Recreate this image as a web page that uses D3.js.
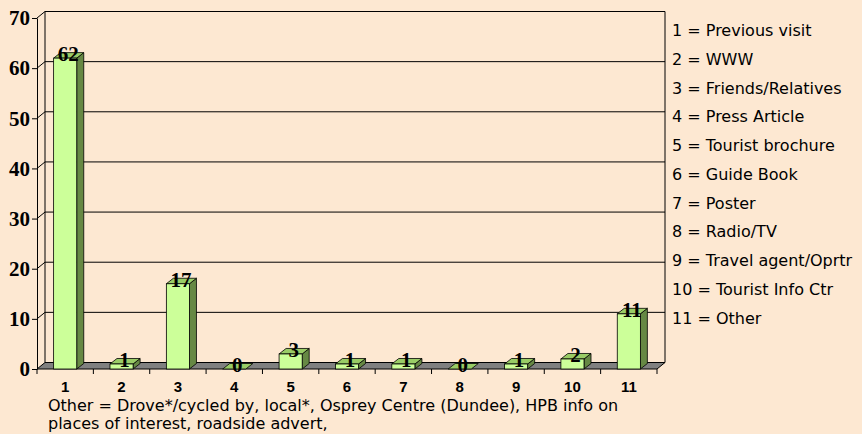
<!DOCTYPE html>
<html>
<head>
<meta charset="utf-8">
<script src="https://cdn.jsdelivr.net/npm/d3@7"></script>
<style>
  html, body { margin: 0; padding: 0; background: #fde8d2; }
  svg { display: block; }
</style>
</head>
<body>
<div id="chart"></div>
<script>
// data
const categories = ["1", "2", "3", "4", "5", "6", "7", "8", "9", "10", "11"];
const counts = [62, 1, 17, 0, 3, 1, 1, 0, 1, 2, 11];
const yTicks = [0, 10, 20, 30, 40, 50, 60, 70];
const legendLabels = [
    "1 = Previous visit",
    "2 = WWW",
    "3 = Friends/Relatives",
    "4 = Press Article",
    "5 = Tourist brochure",
    "6 = Guide Book",
    "7 = Poster",
    "8 = Radio/TV",
    "9 = Travel agent/Oprtr",
    "10 = Tourist Info Ctr",
    "11 = Other",
];
const footnoteLines = [
    "Other = Drove*/cycled by, local*, Osprey Centre (Dundee), HPB info on",
    "places of interest, roadside advert,",
];

const width = 862;
const height = 434;

// 3d offsets: floor/walls and bars
const depthX = 8, depthY = 6.5;
const barDX = 7, barDY = 5.5;

const svg = d3
    .select("#chart")
    .append("svg")
    .attr("width", width)
    .attr("height", height);

svg.append("rect")
    .attr("width", width)
    .attr("height", height)
    .attr("fill", "#fde8d2");

const x = d3
    .scaleBand()
    .domain(categories)
    .range([37, 657])
    .paddingInner(0.59)
    .paddingOuter(0.295);

const y = d3.scaleLinear().domain([0, 70]).range([369, 18]);

const left = x.range()[0];
const right = x.range()[1];

// gridlines on side + back wall
svg.append("g")
    .selectAll("polyline")
    .data(yTicks.filter((d) => d > 0))
    .enter()
    .append("polyline")
    .attr("fill", "none")
    .attr("stroke", "#000")
    .attr("stroke-width", 1)
    .attr("points", (d) => [
        [left, y(d)],
        [left + depthX, y(d) - depthY],
        [right + depthX, y(d) - depthY],
    ].join(" "));

// back wall edges
svg.append("polyline")
    .attr("fill", "none")
    .attr("stroke", "#000")
    .attr("points", [
        [left + depthX, y(0) - depthY],
        [left + depthX, y(70) - depthY],
        [right + depthX, y(70) - depthY],
        [right + depthX, y(0) - depthY],
    ].join(" "));

// floor
svg.append("polygon")
    .attr("fill", "#808080")
    .attr("stroke", "#000")
    .attr("points", [
        [left, y(0)],
        [left + depthX, y(0) - depthY],
        [right + depthX, y(0) - depthY],
        [right, y(0)],
    ].join(" "));

// bars
const bars = svg
    .append("g")
    .selectAll("g")
    .data(categories.map((c, i) => ({ cat: c, value: counts[i] })))
    .enter()
    .append("g");

const bw = x.bandwidth();

bars.filter((d) => d.value > 0)
    .append("polygon")
    .attr("fill", "#668844")
    .attr("stroke", "#000")
    .attr("stroke-width", 0.8)
    .attr("points", (d) => {
        const x1 = x(d.cat) + bw;
        return [
            [x1, y(0)],
            [x1 + barDX, y(0) - barDY],
            [x1 + barDX, y(d.value) - barDY],
            [x1, y(d.value)],
        ].join(" ");
    });

bars.append("polygon")
    .attr("fill", "#99cc66")
    .attr("stroke", "#000")
    .attr("stroke-width", 0.8)
    .attr("points", (d) => {
        const x0 = x(d.cat);
        const yt = y(d.value);
        return [
            [x0, yt],
            [x0 + barDX, yt - barDY],
            [x0 + bw + barDX, yt - barDY],
            [x0 + bw, yt],
        ].join(" ");
    });

bars.filter((d) => d.value > 0)
    .append("rect")
    .attr("fill", "#ccff99")
    .attr("stroke", "#000")
    .attr("stroke-width", 0.8)
    .attr("x", (d) => x(d.cat))
    .attr("y", (d) => y(d.value))
    .attr("width", bw)
    .attr("height", (d) => y(0) - y(d.value));

// value labels
bars.append("text")
    .attr("x", (d) => x(d.cat) + bw / 2 + 3)
    .attr("y", (d) => y(d.value) + 3)
    .attr("text-anchor", "middle")
    .style("font-family", "'Liberation Serif', 'Times New Roman', serif")
    .style("font-weight", "bold")
    .style("font-size", "21px")
    .attr("fill", "#000")
    .text((d) => d.value);

// y axis
const yAxis = svg
    .append("g")
    .attr("transform", `translate(${left},0)`)
    .call(d3.axisLeft(y).tickValues(yTicks).tickSize(5).tickSizeOuter(0).tickPadding(2));
yAxis.selectAll("text")
    .style("font-family", "'Liberation Serif', 'Times New Roman', serif")
    .style("font-weight", "bold")
    .style("font-size", "21px")
    .attr("fill", "#000");
yAxis.selectAll("line, path").attr("stroke", "#000");

// x axis labels
const xAxis = svg
    .append("g")
    .attr("transform", `translate(0,${y(0)})`)
    .call(d3.axisBottom(x).tickSize(0).tickPadding(12));
xAxis.select(".domain").remove();
xAxis.selectAll("text")
    .style("font-family", "'Liberation Sans', Arial, sans-serif")
    .style("font-weight", "bold")
    .style("font-size", "15px")
    .attr("fill", "#000");

// x ticks at category boundaries
svg.append("g")
    .selectAll("line")
    .data(d3.range(categories.length + 1))
    .enter()
    .append("line")
    .attr("x1", (i) => left + i * x.step())
    .attr("x2", (i) => left + i * x.step())
    .attr("y1", y(0))
    .attr("y2", y(0) + 5)
    .attr("stroke", "#000");

// legend
svg.append("g")
    .selectAll("text")
    .data(legendLabels)
    .enter()
    .append("text")
    .attr("x", 672)
    .attr("y", (d, i) => 36 + i * 28.75)
    .style("font-family", "'DejaVu Sans', Verdana, sans-serif")
    .style("font-size", "16px")
    .attr("fill", "#000")
    .text((d) => d);

// footnote
svg.append("g")
    .selectAll("text")
    .data(footnoteLines)
    .enter()
    .append("text")
    .attr("x", 48)
    .attr("y", (d, i) => 411 + i * 18)
    .style("font-family", "'DejaVu Sans', Verdana, sans-serif")
    .style("font-size", "16px")
    .attr("fill", "#000")
    .text((d) => d);
</script>
</body>
</html>
